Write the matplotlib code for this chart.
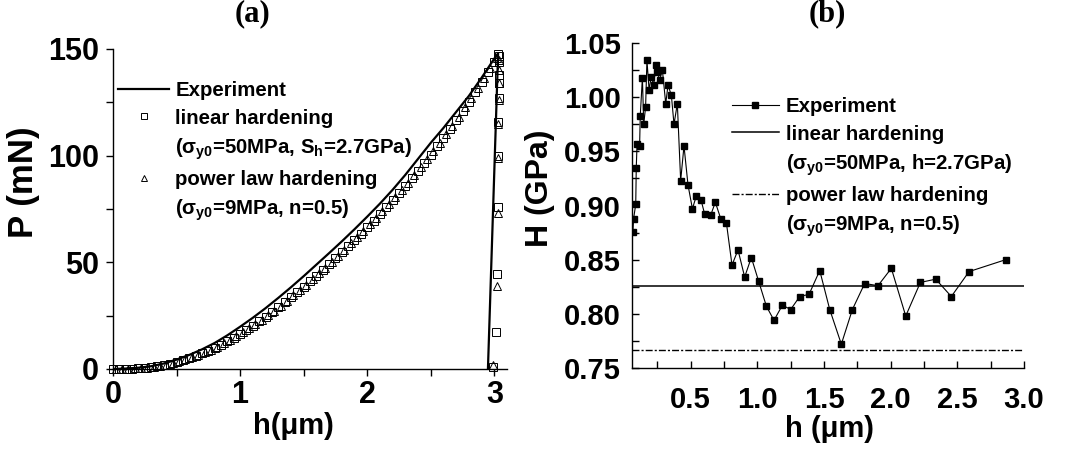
import matplotlib
matplotlib.use('Agg')
import matplotlib.pyplot as plt
from matplotlib.lines import Line2D
from matplotlib.ticker import MultipleLocator, FormatStrFormatter

# ---- panel (a): load-displacement ----
h_exp = [0.0, 0.1, 0.2, 0.3, 0.4, 0.5, 0.6, 0.7, 0.8, 0.9, 1.0, 1.1, 1.2, 1.3, 1.4,
         1.5, 1.6, 1.7, 1.8, 1.9, 2.0, 2.1, 2.2, 2.3, 2.4, 2.5, 2.6, 2.7, 2.8, 2.9,
         3.0, 3.03, 2.95]
P_exp = [0.0, 0.2, 0.6, 1.3, 2.6, 4.4, 6.6, 9.2, 12.2, 15.8, 19.8, 24.0, 28.5, 33.3,
         38.3, 43.5, 48.9, 54.3, 59.8, 65.5, 71.4, 77.5, 84.0, 91.0, 98.5, 106.0,
         113.0, 120.5, 128.0, 136.5, 145.5, 148.0, 0.0]

h_lin = [0.00, 0.05, 0.10, 0.15, 0.20, 0.25, 0.30, 0.35, 0.40, 0.45, 0.50, 0.55,
         0.60, 0.65, 0.70, 0.75, 0.80, 0.85, 0.90, 0.95, 1.00, 1.05, 1.10, 1.15,
         1.20, 1.25, 1.30, 1.35, 1.40, 1.45, 1.50, 1.55, 1.60, 1.65, 1.70, 1.75,
         1.80, 1.85, 1.90, 1.95, 2.00, 2.05, 2.10, 2.15, 2.20, 2.25, 2.30, 2.35,
         2.40, 2.45, 2.50, 2.55, 2.60, 2.65, 2.70, 2.75, 2.80, 2.85, 2.90, 2.95,
         3.00, 3.03,
         3.04, 3.04, 3.04, 3.04, 3.04, 3.03, 3.03, 3.03, 3.02, 3.01, 2.99]
P_lin = [0.0, 0.0, 0.1, 0.2, 0.4, 0.6, 0.9, 1.3, 1.8, 2.5, 3.3, 4.2,
         5.2, 6.2, 7.4, 8.6, 10.0, 11.4, 13.0, 14.7, 16.5, 18.3, 20.3, 22.3,
         24.4, 26.6, 28.9, 31.2, 33.6, 36.1, 38.6, 41.2, 43.8, 46.5, 49.2, 52.0,
         54.8, 57.7, 60.6, 63.5, 66.5, 69.6, 72.7, 75.9, 79.1, 82.4, 85.8, 89.3,
         92.9, 96.6, 100.4, 104.3, 108.3, 112.4, 116.6, 120.9, 125.3, 129.8, 134.4, 139.1,
         143.9, 147.5,
         146.5, 144.0, 138.0, 134.0, 127.0, 116.0, 100.0, 76.0, 44.5, 17.5, 1.0]

h_pow = [0.02, 0.07, 0.12, 0.17, 0.22, 0.27, 0.32, 0.37, 0.42, 0.47, 0.52, 0.57,
         0.62, 0.67, 0.72, 0.77, 0.82, 0.87, 0.92, 0.97, 1.02, 1.07, 1.12, 1.17,
         1.22, 1.27, 1.32, 1.37, 1.42, 1.47, 1.52, 1.57, 1.62, 1.67, 1.72, 1.77,
         1.82, 1.87, 1.92, 1.97, 2.02, 2.07, 2.12, 2.17, 2.22, 2.27, 2.32, 2.37,
         2.42, 2.47, 2.52, 2.57, 2.62, 2.67, 2.72, 2.77, 2.82, 2.87, 2.92, 2.97,
         3.02,
         3.04, 3.04, 3.04, 3.04, 3.03, 3.03, 3.03, 3.02, 2.99]
P_pow = [0.0, 0.1, 0.1, 0.3, 0.5, 0.7, 1.1, 1.5, 2.1, 2.8, 3.6, 4.5,
         5.5, 6.6, 7.8, 9.1, 10.5, 12.0, 13.6, 15.4, 17.2, 19.1, 21.0, 23.1,
         25.2, 27.4, 29.7, 32.0, 34.5, 37.0, 39.5, 42.1, 44.8, 47.5, 50.3, 53.1,
         56.0, 58.9, 61.8, 64.8, 67.8, 70.9, 74.1, 77.3, 80.6, 84.0, 87.4, 91.0,
         94.6, 98.3, 102.1, 106.0, 110.0, 114.1, 118.3, 122.6, 127.0, 131.6, 136.3, 141.1,
         146.0,
         145.0, 140.0, 134.0, 126.0, 115.0, 99.0, 73.0, 39.0, 2.0]

# ---- panel (b): hardness vs depth ----
h_H = [0.067, 0.072, 0.088, 0.092, 0.098, 0.117, 0.122, 0.138, 0.148, 0.162, 0.172,
       0.188, 0.205, 0.223, 0.238, 0.250, 0.268, 0.288, 0.313, 0.330, 0.355, 0.375,
       0.400, 0.425, 0.450, 0.480, 0.513, 0.543, 0.578, 0.605, 0.650, 0.685, 0.725,
       0.768, 0.810, 0.855, 0.905, 0.955, 1.010, 1.068, 1.125, 1.188, 1.250, 1.318,
       1.388, 1.468, 1.543, 1.630, 1.713, 1.805, 1.905, 2.005, 2.113, 2.223, 2.338,
       2.455, 2.588, 2.863]
H_exp = [0.876, 0.888, 0.901, 0.935, 0.957, 0.955, 0.983, 1.018, 0.975, 0.991, 1.034,
         1.007, 1.019, 1.011, 1.030, 1.023, 1.016, 1.025, 0.994, 1.011, 1.002, 0.975,
         0.994, 0.923, 0.955, 0.919, 0.897, 0.909, 0.905, 0.892, 0.891, 0.903, 0.888,
         0.884, 0.845, 0.859, 0.834, 0.852, 0.830, 0.807, 0.794, 0.808, 0.804, 0.816,
         0.818, 0.840, 0.804, 0.772, 0.804, 0.828, 0.826, 0.842, 0.798, 0.829, 0.832,
         0.816, 0.839, 0.850]
H_lin = 0.826
H_pow = 0.767

lab_a = ['Experiment', 'linear hardening', '(σ$_{y0}$=50MPa, S$_{h}$=2.7GPa)',
         'power law hardening', '(σ$_{y0}$=9MPa, n=0.5)']
lab_b = ['Experiment', 'linear hardening', '(σ$_{y0}$=50MPa, h=2.7GPa)',
         'power law hardening', '(σ$_{y0}$=9MPa, n=0.5)']

plt.rcParams['font.family'] = ['Liberation Sans', 'DejaVu Sans']
plt.rcParams['font.weight'] = 'bold'
plt.rcParams['mathtext.fontset'] = 'custom'
plt.rcParams['mathtext.rm'] = 'Liberation Sans:bold'
plt.rcParams['mathtext.it'] = 'Liberation Sans:bold'
plt.rcParams['mathtext.bf'] = 'Liberation Sans:bold'

W, Hh = 1065, 455
fig = plt.figure(figsize=(W / 100, Hh / 100), dpi=100)

def box(l, r, t, b):
    return [l / W, 1 - b / Hh, (r - l) / W, (b - t) / Hh]

# ---------- (a) ----------
ax = fig.add_axes(box(113, 507, 49, 369))
ax.plot(h_exp, P_exp, color='k', lw=1.6, zorder=3)
ax.plot(h_lin, P_lin, ls='none', marker='s', ms=5.3, mfc='none', mec='k', mew=0.7,
        clip_on=False)
ax.plot(h_pow, P_pow, ls='none', marker='^', ms=5.6, mfc='none', mec='k', mew=0.7,
        clip_on=False)
ax.set_xlim(0, 3.1)
ax.set_ylim(0, 150)
ax.xaxis.set_major_locator(MultipleLocator(1))
ax.xaxis.set_minor_locator(MultipleLocator(0.5))
ax.yaxis.set_major_locator(MultipleLocator(50))
ax.yaxis.set_minor_locator(MultipleLocator(25))
for s in ['top', 'right']:
    ax.spines[s].set_visible(False)
for s in ['left', 'bottom']:
    ax.spines[s].set_linewidth(1.0)
ax.tick_params(which='both', direction='out', length=5, width=1.0)
ax.tick_params(axis='x', which='major', labelsize=22, pad=3)
ax.tick_params(axis='y', which='major', labelsize=22, pad=5)
ax.set_xlabel('h(μm)', fontsize=21, fontweight='bold')
ax.set_ylabel('P (mN)', fontsize=25, fontweight='bold')
ax.xaxis.set_label_coords(0.457, -0.135)
ax.yaxis.set_label_coords(-0.185, 0.584)

hd_a = [Line2D([], [], color='k', lw=1.6),
        Line2D([], [], ls='none', marker='s', ms=4.8, mfc='none', mec='k', mew=0.7),
        Line2D([], [], ls='none'),
        Line2D([], [], ls='none', marker='^', ms=5.0, mfc='none', mec='k', mew=0.7),
        Line2D([], [], ls='none')]
ax.legend(hd_a, lab_a, loc='upper left', bbox_to_anchor=(118 / W, 1 - 81 / Hh),
          bbox_transform=fig.transFigure, frameon=False, borderpad=0,
          borderaxespad=0, handlelength=2.5, handletextpad=0.3, labelspacing=0.42,
          prop={'size': 14.7, 'weight': 'bold'})

fig.text(253 / W, 1 - 14 / Hh, '(a)', family='Liberation Serif', weight='bold',
         size=22, ha='center', va='center')

# ---------- (b) ----------
bx = fig.add_axes(box(632, 1024, 43, 368))
bx.plot(h_H, H_exp, color='k', lw=0.8, marker='s', ms=5, mfc='k', mec='k')
bx.axhline(H_lin, color='k', lw=1.1)
bx.axhline(H_pow, color='k', lw=1.0, dashes=(5, 1.5, 1.5, 1.5))
bx.set_xlim(0.06, 3.0)
bx.set_ylim(0.75, 1.05)
bx.xaxis.set_major_locator(MultipleLocator(0.5))
bx.xaxis.set_minor_locator(MultipleLocator(0.25))
bx.yaxis.set_major_locator(MultipleLocator(0.05))
bx.yaxis.set_minor_locator(MultipleLocator(0.025))
bx.xaxis.set_major_formatter(FormatStrFormatter('%.1f'))
bx.yaxis.set_major_formatter(FormatStrFormatter('%.2f'))
for s in ['top', 'right']:
    bx.spines[s].set_visible(False)
for s in ['left', 'bottom']:
    bx.spines[s].set_linewidth(1.0)
bx.tick_params(which='both', direction='in', length=5, width=1.0)
bx.tick_params(axis='x', which='major', labelsize=21, pad=13)
bx.tick_params(axis='y', which='major', labelsize=21, pad=8)
bx.set_xlabel('h (μm)', fontsize=21, fontweight='bold')
bx.set_ylabel('H (GPa)', fontsize=23, fontweight='bold')
bx.xaxis.set_label_coords(0.505, -0.145)
bx.yaxis.set_label_coords(-0.196, 0.554)

hd_b = [Line2D([], [], color='k', lw=0.8, marker='s', ms=5),
        Line2D([], [], color='k', lw=1.1),
        Line2D([], [], ls='none'),
        Line2D([], [], color='k', lw=1.0, dashes=(5, 1.5, 1.5, 1.5)),
        Line2D([], [], ls='none')]
bx.legend(hd_b, lab_b, loc='upper left', bbox_to_anchor=(732 / W, 1 - 97 / Hh),
          bbox_transform=fig.transFigure, frameon=False, borderpad=0,
          borderaxespad=0, handlelength=2.3, handletextpad=0.35, labelspacing=0.42,
          prop={'size': 14.7, 'weight': 'bold'})

fig.text(827 / W, 1 - 14 / Hh, '(b)', family='Liberation Serif', weight='bold',
         size=22, ha='center', va='center')

fig.savefig('out.png', dpi=100)
